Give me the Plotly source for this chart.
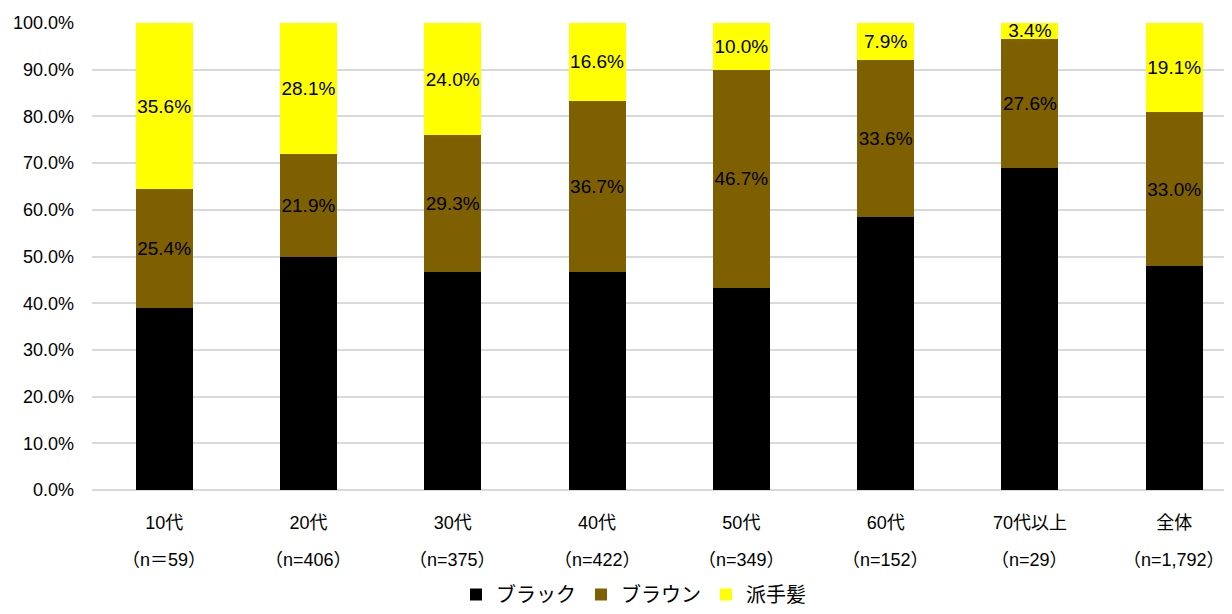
import plotly.graph_objects as go

categories = ["10代", "20代", "30代", "40代", "50代", "60代", "70代以上", "全体"]
n_labels = ["（n＝59）", "（n=406）", "（n=375）", "（n=422）", "（n=349）", "（n=152）", "（n=29）", "（n=1,792）"]
black = [39.0, 50.0, 46.7, 46.7, 43.3, 58.5, 69.0, 47.9]
brown = [25.4, 21.9, 29.3, 36.7, 46.7, 33.6, 27.6, 33.0]
flashy = [35.6, 28.1, 24.0, 16.6, 10.0, 7.9, 3.4, 19.1]

font = "Liberation Sans, Arial, Noto Sans CJK JP, sans-serif"
cjk = "Noto Sans CJK JP, sans-serif"
x = list(range(len(categories)))

fig = go.Figure()
fig.add_trace(go.Bar(x=x, y=black, name="ブラック", marker_color="#000000",
                     marker_line_width=0, hoverinfo="y"))
fig.add_trace(go.Bar(x=x, y=brown, name="ブラウン", marker_color="#7F6000",
                     marker_line_width=0,
                     text=[f"{v:.1f}%" for v in brown], textposition="inside",
                     insidetextanchor="middle", textangle=0,
                     textfont=dict(color="#000000", size=19, family=font)))
fig.add_trace(go.Bar(x=x, y=flashy, name="派手髪", marker_color="#FFFF00",
                     marker_line_width=0,
                     text=[f"{v:.1f}%" for v in flashy], textposition="inside",
                     insidetextanchor="middle", textangle=0,
                     textfont=dict(color="#000000", size=19, family=font)))

W, H = 1224, 606
L, R, T, B = 84, 0, 15, 124
plot_h = H - T - B

for xi, lab in zip(x, n_labels):
    fig.add_annotation(x=xi, y=-70 / plot_h, xref="x", yref="paper", text=lab,
                       showarrow=False, yanchor="middle", xanchor="center",
                       font=dict(size=18, family=font, color="#000000"))

fig.update_layout(
    barmode="stack",
    bargap=0.605,
    width=W, height=H,
    margin=dict(l=L, r=R, t=T, b=B, autoexpand=False),
    paper_bgcolor="white", plot_bgcolor="white",
    font=dict(family=font, size=18, color="#000000"),
    uniformtext=dict(minsize=19, mode="show"),
    legend=dict(orientation="h", x=0.475, xanchor="center", y=-B / plot_h, yanchor="bottom",
                font=dict(size=20, family=cjk), traceorder="normal", itemwidth=30),
    showlegend=True,
)
fig.update_xaxes(range=[-0.5, 7.4], tickmode="array", tickvals=x, ticktext=categories,
                 showgrid=False, showline=False, ticks="", tickfont=dict(size=18),
                 ticklabelstandoff=20)
fig.update_yaxes(range=[0, 100], tickmode="array", tickvals=list(range(0, 101, 10)),
                 ticktext=[f"{v:.1f}%" for v in range(0, 101, 10)],
                 showgrid=True, gridcolor="#D9D9D9", gridwidth=1.5, zeroline=True,
                 zerolinecolor="#D9D9D9", zerolinewidth=1.5, ticks="", tickfont=dict(size=18),
                 ticklabelstandoff=17)

fig.write_html("out.html")
